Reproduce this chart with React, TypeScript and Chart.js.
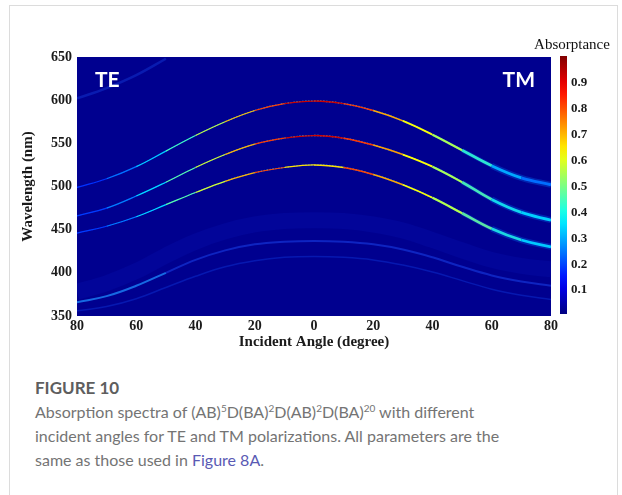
import React, { useEffect, useRef } from "react";
import { Chart, registerables } from "chart.js";

Chart.register(...registerables);

// ---- data ----
const ANGLES = [-80, -70, -60, -50, -40, -30, -20, -10, 0, 10, 20, 30, 40, 50, 60, 70, 80];
const MODE1_NM = [499, 509, 523, 541, 559, 575, 588, 596, 599, 596, 588, 576, 560, 542, 524, 510, 502];
const MODE2_NM = [466, 475, 489, 505, 522, 537, 549, 556, 559, 556, 548, 537, 523, 505, 485, 470, 461];
const MODE3_NM = [446, 454, 465, 479, 493, 506, 516, 522, 525, 522, 514, 502, 487, 469, 451, 438, 430];
const MODE1_ABS = [0.15, 0.2, 0.28, 0.38, 0.5, 0.62, 0.75, 0.88, 0.97, 0.88, 0.76, 0.66, 0.58, 0.5, 0.36, 0.26, 0.2];
const MODE2_ABS = [0.16, 0.21, 0.29, 0.4, 0.52, 0.64, 0.76, 0.88, 0.96, 0.88, 0.77, 0.67, 0.58, 0.5, 0.42, 0.38, 0.35];
const MODE3_ABS = [0.16, 0.21, 0.29, 0.4, 0.52, 0.64, 0.76, 0.86, 0.45, 0.86, 0.76, 0.66, 0.58, 0.52, 0.45, 0.38, 0.33];
const GLOW1_NM = [366, 373, 385, 400, 415, 426, 433, 436, 437, 436, 433, 427, 418, 407, 397, 390, 385];
const GLOW2_NM = [356, 361, 370, 383, 396, 407, 414, 418, 419, 418, 415, 409, 401, 391, 381, 374, 369];
const HAZE_NM = [378, 388, 402, 420, 436, 448, 456, 460, 461, 460, 456, 449, 438, 426, 415, 408, 404];
const EDGE_ANGLES = [-80, -70, -60, -50];
const EDGE_NM = [602, 614, 629, 648];
const X_TICK_STEP = 20;
const Y_TICK_STEP = 50;
const CB_TICKS = [0.1, 0.2, 0.3, 0.4, 0.5, 0.6, 0.7, 0.8, 0.9];

const BG = "#00008f";
const SERIF = "'Liberation Serif', 'Times New Roman', serif";

function clamp01(v: number) {
  return Math.max(0, Math.min(1, v));
}
function jet(v: number, a = 1) {
  const x = clamp01(v);
  const r = Math.round(255 * clamp01(1.5 - Math.abs(4 * x - 3)));
  const g = Math.round(255 * clamp01(1.5 - Math.abs(4 * x - 2)));
  const b = Math.round(255 * clamp01(1.5 - Math.abs(4 * x - 1)));
  return `rgba(${r},${g},${b},${a})`;
}

function pts(xs: number[], ys: number[]) {
  return xs.map((x, i) => ({ x, y: ys[i] }));
}

function lineWidthFor(m: number) {
  if (m < 0) return 1.2;
  if (m < 35) return 1.5;
  if (m < 45) return 1.8;
  if (m < 55) return 2.2;
  return 2.8;
}

function modeDatasets(nm: number[], abs: number[]) {
  const data = pts(ANGLES, nm);
  const segAbs = (ctx: any) => (abs[ctx.p0DataIndex] + abs[ctx.p1DataIndex]) / 2;
  const segMid = (ctx: any) => (ctx.p0.parsed.x + ctx.p1.parsed.x) / 2;
  return [
    {
      data,
      segment: {
        borderColor: (ctx: any) => {
          const m = segMid(ctx);
          return m > 55 ? "rgba(0,120,255,0.3)" : m > 45 ? "rgba(0,120,255,0.2)" : "rgba(0,0,0,0)";
        },
        borderWidth: (ctx: any) => {
          const m = segMid(ctx);
          return m > 55 ? 6 : m > 45 ? 4.5 : 0;
        },
      },
    },
    {
      data,
      segment: {
        borderColor: (ctx: any) => jet(segAbs(ctx)),
        borderWidth: (ctx: any) => lineWidthFor(segMid(ctx)),
      },
    },
    {
      data,
      segment: {
        borderDash: () => [1.5, 1.5],
        borderColor: (ctx: any) => (segMid(ctx) > 50 ? "rgba(0,0,0,0)" : jet(segAbs(ctx) * 0.36)),
        borderWidth: (ctx: any) => lineWidthFor(segMid(ctx)),
      },
    },
  ];
}

const heatPlugin = {
  id: "heatmapDecor",
  beforeDatasetsDraw(chart: any) {
    const { ctx, chartArea: a } = chart;
    ctx.save();
    ctx.fillStyle = BG;
    ctx.fillRect(a.left, a.top, a.right - a.left, a.bottom - a.top);
    ctx.restore();
  },
  afterDatasetsDraw(chart: any) {
    const { ctx, chartArea: a } = chart;
    ctx.save();
    ctx.fillStyle = "#ffffff";
    ctx.font = "bold 21px Lato, 'Open Sans', sans-serif";
    ctx.textBaseline = "middle";
    ctx.textAlign = "left";
    ctx.fillText("TE", a.left + 18, a.top + 23);
    ctx.textAlign = "right";
    ctx.fillText("TM", a.right - 16, a.top + 23);
    ctx.restore();
  },
  afterDraw(chart: any) {
    const { ctx, chartArea: a } = chart;
    const cb = chart.scales.cb;
    const x0 = cb.left + 9;
    const yTop = cb.getPixelForValue(1) - 1;
    const yBot = cb.getPixelForValue(0) - 2;
    const grad = ctx.createLinearGradient(0, yBot, 0, yTop);
    for (let i = 0; i <= 20; i++) grad.addColorStop(i / 20, jet(i / 20));
    ctx.save();
    ctx.fillStyle = grad;
    ctx.fillRect(x0, yTop, 7, yBot - yTop);
    ctx.fillStyle = "#111";
    ctx.font = `15px ${SERIF}`;
    ctx.textAlign = "center";
    ctx.textBaseline = "middle";
    ctx.fillText("Absorptance", cb.left + 21, a.top - 12);
    ctx.restore();
  },
};

function HeatChart() {
  const ref = useRef<HTMLCanvasElement>(null);
  useEffect(() => {
    if (!ref.current) return;
    const tickFont = { family: SERIF, size: 14, weight: "bold" as const };
    const titleFont = { family: SERIF, size: 15, weight: "bold" as const };
    const datasets: any[] = [
      {
        data: pts(ANGLES, HAZE_NM),
        borderColor: "rgba(20,60,255,0.09)",
        borderWidth: 16,
      },
      {
        data: pts(ANGLES, GLOW2_NM),
        borderColor: "rgba(20,80,255,0.3)",
        borderWidth: 1.5,
      },
      {
        data: pts(ANGLES, GLOW1_NM),
        segment: {
          borderColor: (ctx: any) =>
            ctx.p0.parsed.x < -55 ? "rgba(30,140,255,0.75)" : "rgba(30,80,255,0.45)",
        },
        borderWidth: 2,
      },
      {
        data: pts(EDGE_ANGLES, EDGE_NM),
        borderColor: "rgba(30,90,255,0.3)",
        borderWidth: 2.5,
      },
      ...modeDatasets(MODE1_NM, MODE1_ABS),
      ...modeDatasets(MODE2_NM, MODE2_ABS),
      ...modeDatasets(MODE3_NM, MODE3_ABS),
    ].map((d) => ({
      pointRadius: 0,
      fill: false,
      tension: 0.4,
      clip: 0,
      borderCapStyle: "butt",
      ...d,
    }));

    const chart = new Chart(ref.current, {
      type: "line",
      data: { datasets },
      options: {
        responsive: false,
        animation: false,
        devicePixelRatio: 1,
        layout: { padding: { top: 57, left: 0, right: 21, bottom: 0 } },
        plugins: { legend: { display: false }, tooltip: { enabled: false } },
        scales: {
          x: {
            type: "linear",
            min: -80,
            max: 80,
            border: { display: false },
            grid: { display: false, drawTicks: false },
            ticks: {
              stepSize: X_TICK_STEP,
              callback: (v: any) => String(Math.abs(Number(v))),
              font: tickFont,
              color: "#1a1a1a",
              padding: 2,
              maxRotation: 0,
              autoSkip: false,
            },
            title: {
              display: true,
              text: "Incident Angle (degree)",
              font: titleFont,
              color: "#1a1a1a",
              padding: { top: 0, bottom: 9 },
            },
            afterFit: (s: any) => {
              s.height = 44;
            },
          },
          y: {
            type: "linear",
            position: "left",
            min: 350,
            max: 650,
            border: { display: false },
            grid: { display: false, drawTicks: false },
            ticks: {
              stepSize: Y_TICK_STEP,
              font: tickFont,
              color: "#1a1a1a",
              padding: 5,
            },
            title: {
              display: true,
              text: "Wavelength (nm)",
              font: titleFont,
              color: "#1a1a1a",
              padding: { top: 19, bottom: 0 },
            },
            afterFit: (s: any) => {
              s.width = 77;
            },
          },
          cb: {
            type: "linear",
            position: "right",
            min: 0,
            max: 1,
            border: { display: false },
            grid: { display: false, drawTicks: false },
            afterBuildTicks: (s: any) => {
              s.ticks = CB_TICKS.map((v) => ({ value: v }));
            },
            ticks: {
              font: { family: SERIF, size: 13, weight: "bold" as const },
              color: "#1a1a1a",
              padding: 20,
              callback: (v: any) => Number(v).toFixed(1),
            },
            afterFit: (s: any) => {
              s.width = 50;
            },
          },
        },
      } as any,
      plugins: [heatPlugin],
    });
    return () => chart.destroy();
  }, []);
  return (
    <canvas
      ref={ref}
      width={622}
      height={360}
      style={{ position: "absolute", left: 0, top: 0, width: 622, height: 360 }}
    />
  );
}

export default function App() {
  const captionFont = "Lato, 'Open Sans', sans-serif";
  const sup = { fontSize: 10, lineHeight: 0 } as const;
  return (
    <div style={{ position: "absolute", left: 0, top: 0, width: 622, height: 495, overflow: "hidden", background: "#fff" }}>
      <div
        style={{
          position: "absolute",
          left: 9,
          top: 5,
          width: 609,
          height: 520,
          border: "1px solid #dcdcdc",
          boxSizing: "border-box",
        }}
      />
      <HeatChart />
      <div
        style={{
          position: "absolute",
          left: 35,
          top: 376,
          fontFamily: captionFont,
          fontSize: 16,
          lineHeight: "24px",
          color: "#747474",
          whiteSpace: "nowrap",
        }}
      >
        <div style={{ fontWeight: 700, color: "#5e5e5e", fontSize: 17 }}>FIGURE 10</div>
        <div>
          Absorption spectra of (AB)<sup style={sup}>5</sup>D(BA)<sup style={sup}>2</sup>D(AB)
          <sup style={sup}>2</sup>D(BA)<sup style={sup}>20</sup> with different
        </div>
        <div>incident angles for TE and TM polarizations. All parameters are the</div>
        <div>
          same as those used in <span style={{ color: "#5a5ab4" }}>Figure 8A</span>.
        </div>
      </div>
    </div>
  );
}
